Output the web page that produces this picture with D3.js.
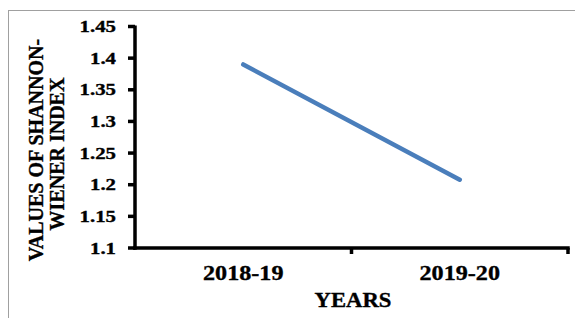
<!DOCTYPE html>
<html>
<head>
<meta charset="utf-8">
<script src="https://cdn.jsdelivr.net/npm/d3@7"></script>
<style>
  body { margin: 0; background: #fff; }
  svg { display: block; font-family: "Liberation Serif", "Times New Roman", serif; font-weight: bold; }
  text { fill: #000; stroke: #000; stroke-width: 0.35px; }
</style>
</head>
<body>
<div id="chart"></div>
<script>
// data
const years = ["2018-19", "2019-20"]
const shannonValues = [1.39, 1.208]
const yTicks = [1.1, 1.15, 1.2, 1.25, 1.3, 1.35, 1.4, 1.45]

const width = 575
const height = 318
const plot = { left: 135, right: 568, top: 26.5, bottom: 248 }
const axisW = 3.5

const svg = d3.select("#chart").append("svg").attr("width", width).attr("height", height)

// outer frame (only left and top visible)
svg.append("rect")
  .attr("x", 8.5).attr("y", 10.5)
  .attr("width", 600).attr("height", 400)
  .style("fill", "none").style("stroke", "#a0a0a0").style("stroke-width", "1px")

// scales
const xScale = d3.scaleBand().domain(years).range([plot.left, plot.right])
const yScale = d3.scaleLinear().domain([1.1, 1.45]).range([plot.bottom, plot.top])

// y axis labels from d3 axis, axis rule and ticks drawn as filled bars
const yAxis = d3.axisLeft(yScale)
  .tickValues(yTicks)
  .tickFormat(d3.format("~g"))
  .tickSize(0)
  .tickPadding(19)

const gy = svg.append("g").attr("transform", `translate(${plot.left}, 0)`).call(yAxis)
gy.select(".domain").remove()
gy.selectAll(".tick line").remove()
gy.selectAll(".tick text")
  .attr("font-size", 16)
  .attr("font-family", "Liberation Serif, serif")
  .attr("font-weight", "bold")
  .each(function () {
    const t = d3.select(this)
    const x = +t.attr("x")
    t.attr("x", null).attr("transform", `translate(${x},0) scale(1.3,1)`)
  })

const axes = svg.append("g").style("fill", "#000")

// y rule
axes.append("rect")
  .attr("x", plot.left - axisW / 2)
  .attr("y", plot.top - 1)
  .attr("width", axisW)
  .attr("height", plot.bottom - plot.top + axisW / 2 + 1)

// y ticks
axes.selectAll(".yt")
  .data(yTicks)
  .enter()
  .append("rect")
  .attr("class", "yt")
  .attr("x", plot.left - 7)
  .attr("y", (d) => yScale(d) - axisW / 2)
  .attr("width", 7)
  .attr("height", axisW)

// x rule
axes.append("rect")
  .attr("x", plot.left - axisW / 2)
  .attr("y", plot.bottom - axisW / 2)
  .attr("width", plot.right - plot.left + axisW)
  .attr("height", axisW)

// x ticks on band boundaries
axes.selectAll(".xt")
  .data(years)
  .enter()
  .append("rect")
  .attr("class", "xt")
  .attr("x", (d) => xScale(d) + xScale.bandwidth() - axisW / 2)
  .attr("y", plot.bottom)
  .attr("width", axisW)
  .attr("height", 6)

svg.selectAll(".xlabel")
  .data(years)
  .enter()
  .append("text")
  .attr("class", "xlabel")
  .attr("transform", (d) => `translate(${xScale(d) + xScale.bandwidth() / 2}, 280) scale(1.15,1)`)
  .attr("text-anchor", "middle")
  .attr("font-size", 21)
  .text((d) => d)

// axis titles
svg.append("text")
  .attr("transform", "translate(353, 307) scale(1.08,1)")
  .attr("text-anchor", "middle")
  .attr("font-size", 21)
  .text("YEARS")

const yTitle = svg.append("text")
  .attr("transform", "translate(43, 150) rotate(-90)")
  .attr("text-anchor", "middle")
  .attr("font-size", 20)
yTitle.append("tspan").attr("x", 0).attr("y", 0).text("VALUES OF SHANNON-")
yTitle.append("tspan").attr("x", -4).attr("y", 21).text("WIENER INDEX")

// the series line
const line = d3.line()
  .x((d, i) => xScale(years[i]) + xScale.bandwidth() / 2)
  .y((d) => yScale(d))

svg.append("path")
  .datum(shannonValues)
  .attr("d", line)
  .style("fill", "none")
  .style("stroke", "#4a7ebb")
  .style("stroke-width", "4.5px")
  .style("stroke-linecap", "round")
</script>
</body>
</html>
